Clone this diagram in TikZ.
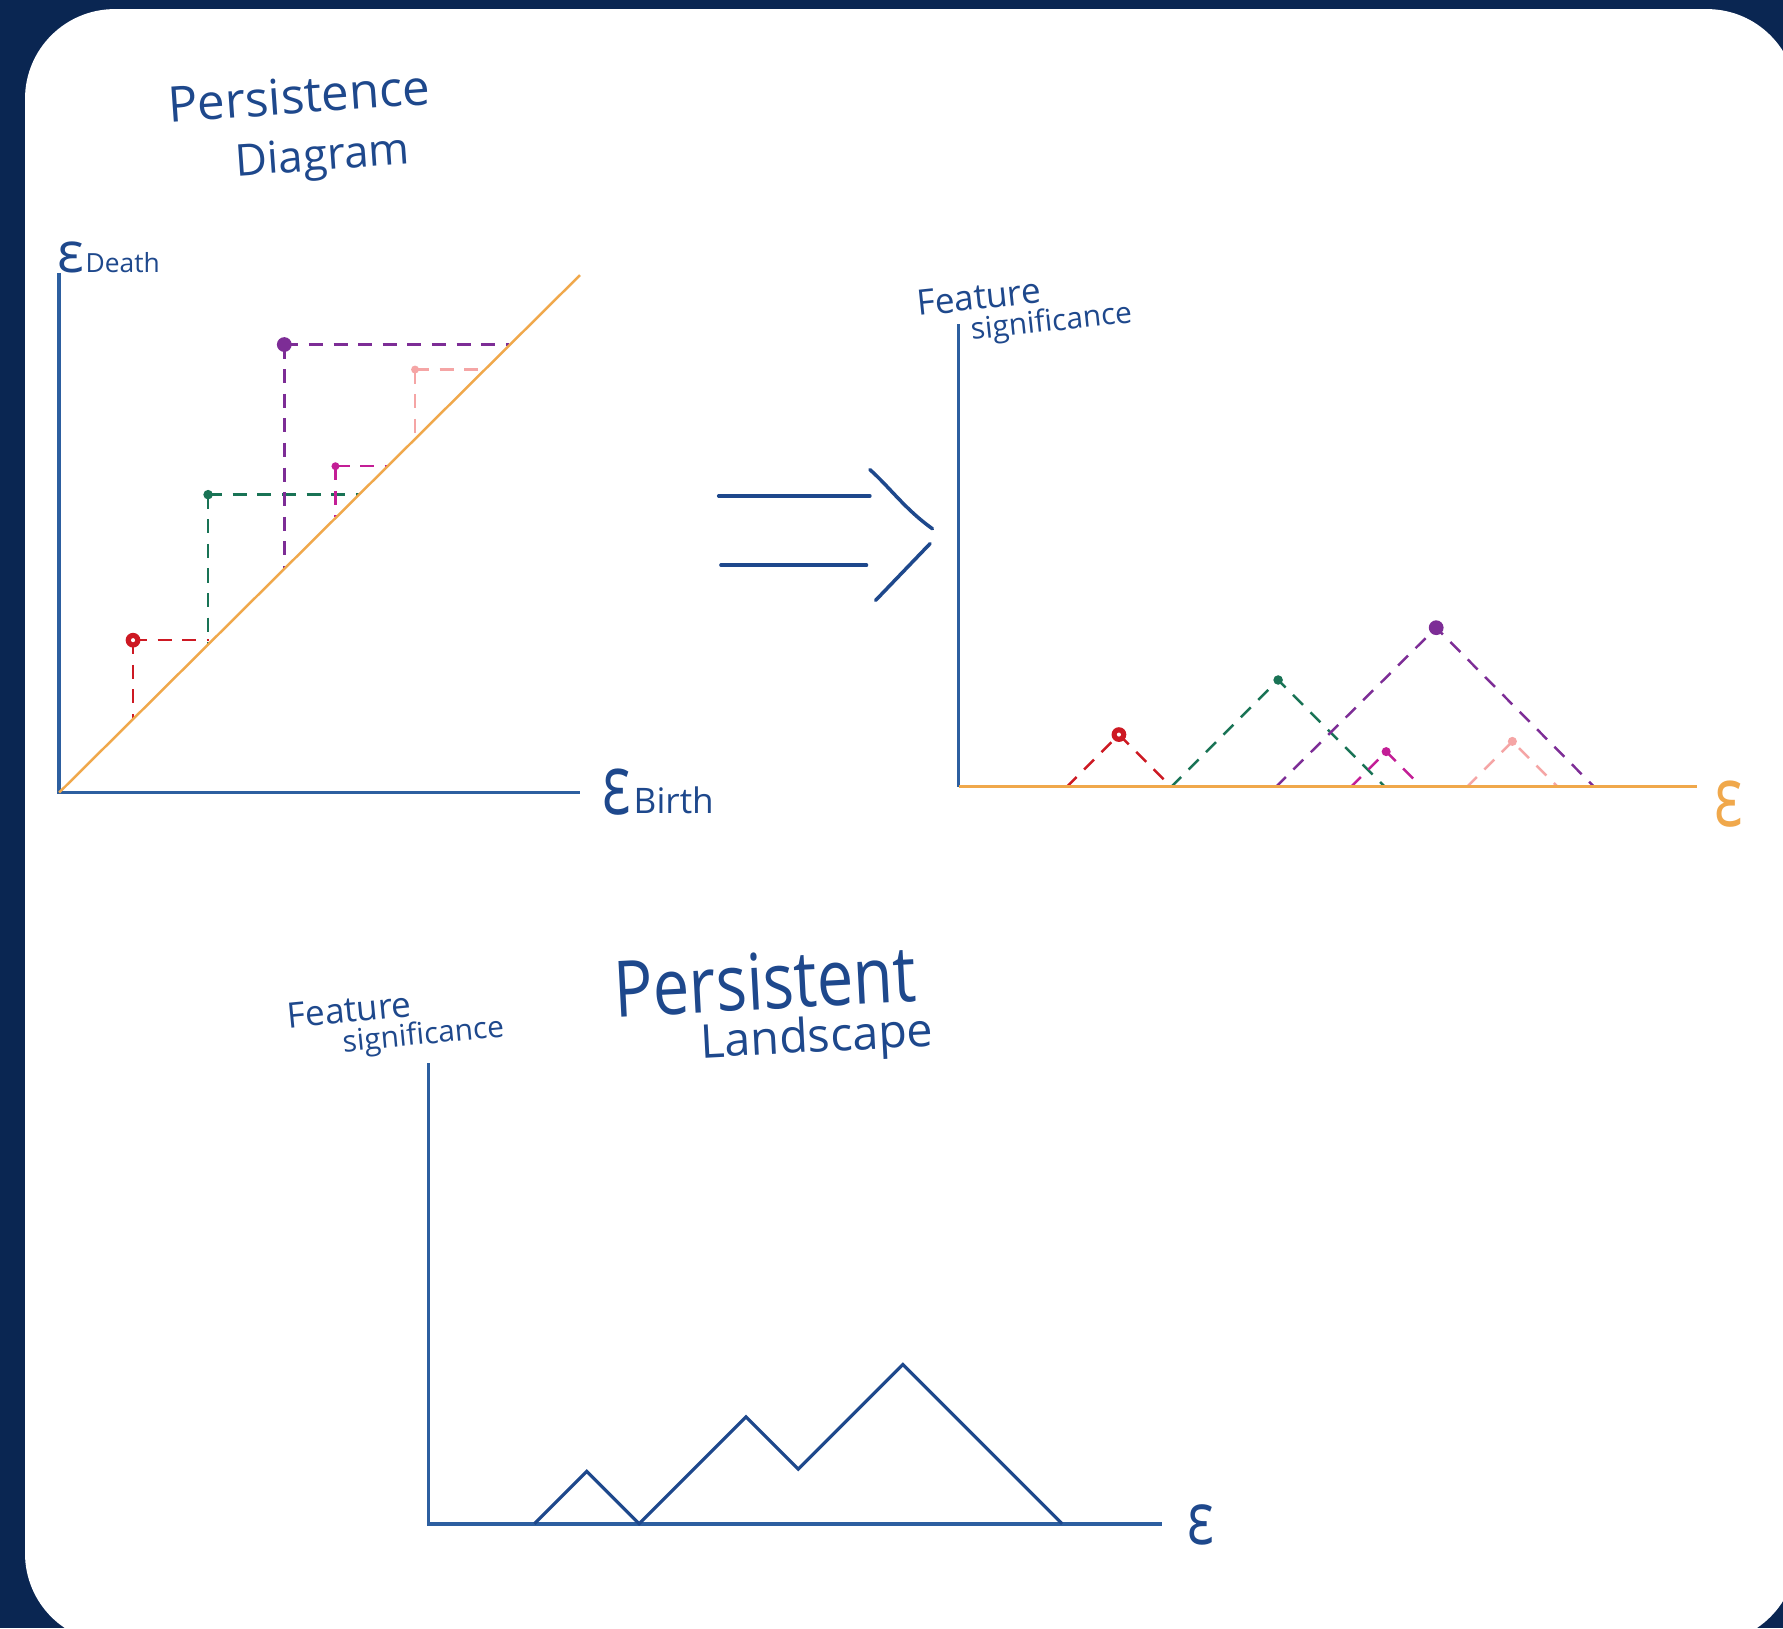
\documentclass[tikz,border=0pt]{standalone}
\usepackage{fontspec}
\setmainfont{Open Sans}
\usepackage{graphicx}
\definecolor{navy}{RGB}{10,38,82}
\definecolor{axblue}{RGB}{45,95,160}
\definecolor{inkblue}{RGB}{30,72,140}
\definecolor{orng}{RGB}{240,168,75}
\definecolor{redd}{RGB}{205,25,35}
\definecolor{grn}{RGB}{25,115,85}
\definecolor{purp}{RGB}{125,45,150}
\definecolor{mag}{RGB}{195,30,150}
\definecolor{pnk}{RGB}{245,165,165}
\begin{document}
\begin{tikzpicture}[x=0.02274cm,y=-0.02274cm,
  axis/.style={draw=axblue,line width=2pt},
  thinaxis/.style={draw=axblue,line width=1.6pt},
  diagline/.style={draw=orng,line width=1.4pt},
  dsh/.style={line width=1.4pt,dash pattern=on 8pt off 6pt},
  hand/.style={text=inkblue,inner sep=0pt},
  arrowst/.style={draw=inkblue,line width=2pt,line cap=round},
  land/.style={draw=inkblue,line width=1.8pt,line join=miter}]
\useasboundingbox (0,0) rectangle (1568,1432);
\fill[navy] (0,0) rectangle (1568,1432);
\fill[white,rounded corners=51pt] (22,8) rectangle (1580,1445);

% ---------- Persistence diagram ----------
\node[hand,rotate=4,font=\fontsize{28}{30}\selectfont] (t1) at (263,84) {Persistence};
\node[hand,rotate=4,font=\fontsize{25}{28}\selectfont] (t2) at (284,140) {Diagram};
\node[hand,font=\fontsize{32}{34}\selectfont] (ed) at (62,226) {ε};
\node[hand,font=\fontsize{15}{17}\selectfont,anchor=west] (dl) at (75,231) {Death};
\node[hand,font=\fontsize{34}{36}\selectfont] (eb) at (542,697) {\scalebox{1}[1.4]{ε}};
\node[hand,font=\fontsize{20}{22}\selectfont,anchor=west] (bl) at (557,704) {Birth};

\coordinate (o1) at (52,697);
\coordinate (y1) at (52,240);
\coordinate (x1) at (510,697);
\coordinate (d1) at (510,242);
\draw[axis] (y1) -- (o1) -- (x1);

\coordinate (pr) at (117,563);
\coordinate (pg) at (183,435);
\coordinate (pp) at (250,303);
\coordinate (pm) at (295,410);
\coordinate (pk) at (365,325);
\draw[dsh,redd] (pr) -- (184,563) (pr) -- (117,632);
\draw[dsh,grn] (pg) -- (316,435) (pg) -- (183,567);
\draw[dsh,purp] (pp) -- (448,303) (pp) -- (250,500);
\draw[dsh,mag] (pm) -- (341,410) (pm) -- (295,455);
\draw[dsh,pnk] (pk) -- (426,325) (pk) -- (365,386);
\draw[diagline] (o1) -- (d1);
\fill[redd] (pr) circle (6.5); \fill[white] (pr) circle (1.8);
\fill[grn] (pg) circle (4.2);
\fill[purp] (pp) circle (6.5);
\fill[mag] (pm) circle (3.5);
\fill[pnk] (pk) circle (3.5);

% ---------- Implies arrow ----------
\coordinate (a1) at (632,436); \coordinate (a2) at (765,436);
\coordinate (a3) at (634,497); \coordinate (a4) at (762,497);
\coordinate (h1) at (765,413); \coordinate (h2) at (820,465);
\coordinate (h3) at (818,478); \coordinate (h4) at (770,528);
\draw[arrowst] (a1) -- (a2);
\draw[arrowst] (a3) -- (a4);
\draw[arrowst] (h1) .. controls (782,428) and (796,448) .. (h2);
\draw[arrowst] (h3) -- (h4);

% ---------- Tent functions ----------
\node[hand,rotate=6] (fs1) at (901,273) {\begin{tabular}{@{}l@{}}\fontsize{20}{22}\selectfont Feature\\\hspace*{29pt}\fontsize{17}{19}\selectfont significance\end{tabular}};
\node[text=orng,inner sep=0pt,font=\fontsize{34}{36}\selectfont] (e2) at (1520,707) {\scalebox{1}[1.4]{ε}};
\coordinate (o2) at (843,692);
\coordinate (y2) at (843,285);
\coordinate (x2) at (1492,692);
\draw[thinaxis] (y2) -- (o2);

\coordinate (tr) at (984,646);
\coordinate (tg) at (1124,598);
\coordinate (tp) at (1263,552);
\coordinate (tm) at (1219,661);
\coordinate (tk) at (1330,652);
\draw[dsh,redd] (938,692) -- (tr) -- (1030,692);
\draw[dsh,grn] (1030,692) -- (tg) -- (1218,692);
\draw[dsh,purp] (1122,692) -- (tp) -- (1402,692);
\draw[dsh,mag] (1188,692) -- (tm) -- (1250,692);
\draw[dsh,pnk] (1290,692) -- (tk) -- (1370,692);
\draw[diagline,line width=1.6pt] (o2) -- (x2);
\fill[redd] (tr) circle (6.5); \fill[white] (tr) circle (1.8);
\fill[grn] (tg) circle (4.2);
\fill[purp] (tp) circle (6.5);
\fill[mag] (tm) circle (4);
\fill[pnk] (tk) circle (4);

% ---------- Persistent landscape ----------
\node[hand,rotate=5.5] (fs2) at (348,900) {\begin{tabular}{@{}l@{}}\fontsize{20}{22}\selectfont Feature\\\hspace*{30pt}\fontsize{17}{19}\selectfont significance\end{tabular}};
\node[hand,rotate=3] (pl) at (680,887) {\begin{tabular}{@{}l@{}}\fontsize{37}{40}\selectfont\scalebox{1}[1.2]{Persistent}\\[2pt]\hspace*{48pt}\fontsize{26.5}{28}\selectfont Landscape\end{tabular}};
\node[hand,font=\fontsize{32}{34}\selectfont] (e3) at (1056,1341) {\scalebox{1}[1.3]{ε}};
\coordinate (o3) at (377,1340);
\coordinate (y3) at (377,935);
\coordinate (x3) at (1022,1340);
\draw[axis] (y3) -- (o3) -- (x3);
\draw[land] (470,1340) -- (516,1294) -- (562,1340) -- (656,1246) -- (702,1292) -- (794,1200) -- (934,1340);
\end{tikzpicture}
\end{document}
